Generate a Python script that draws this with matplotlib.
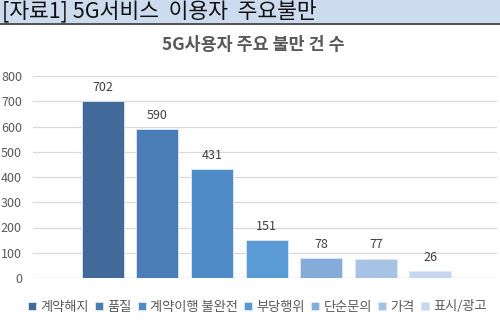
import matplotlib.pyplot as plt
import numpy as np

plt.rcParams['font.family'] = ['Noto Sans CJK KR', 'DejaVu Sans']

# 불만 유형별 건수
categories = ['계약해지', '품질', '계약이행 불완전', '부당행위', '단순문의', '가격', '표시/광고']
counts = [702, 590, 431, 151, 78, 77, 26]
colors = ['#41699a', '#4a7db5', '#4f8bc6', '#5b9bd5', '#85abd9', '#a6c3e5', '#c5d7ef']
yticks = [0, 100, 200, 300, 400, 500, 600, 700, 800]

fig = plt.figure(figsize=(5, 3.33), dpi=100)

# header band
fig.patches.append(plt.Rectangle((0, 1 - 23 / 333), 1, 23 / 333, transform=fig.transFigure,
                                 facecolor='#ccdcee', edgecolor='none', zorder=0))
fig.lines.append(plt.Line2D([0, 1], [1 - 23.5 / 333] * 2, transform=fig.transFigure,
                            color='#333333', lw=1.2))
fig.text(0.004, 1 - 11.5 / 333, '[자료1] 5G서비스  이용자  주요불만', fontsize=15.5,
         color='#111111', va='center', ha='left')

fig.text(0.506, 1 - 45 / 333, '5G사용자 주요 불만 건 수', fontsize=12.5, fontweight='bold',
         color='#595959', va='center', ha='center')

ax = fig.add_axes([33 / 500, 1 - 278 / 333, 464 / 500, 202 / 333])
x = np.arange(len(categories))
bars = ax.bar(x, counts, width=0.77, color=colors, edgecolor='#dfe8f4', linewidth=0.6,
              label=categories, zorder=3)
for xi, v in zip(x, counts):
    ax.text(xi, v + 28, str(v), ha='center', va='bottom', fontsize=9, color='#404040')

ax.set_xlim(-1.28, 7.22)
ax.set_ylim(0, 800)
ax.set_yticks(yticks)
ax.set_xticks([])
ax.grid(axis='y', color='#d9d9d9', lw=0.9, zorder=0)
for s in ax.spines.values():
    s.set_visible(False)
ax.axhline(0, color='#d9d9d9', lw=0.9, zorder=2)
ax.tick_params(axis='y', length=0, labelsize=9, labelcolor='#595959', pad=8)

leg = fig.legend(handles=bars, labels=categories, loc='center', bbox_to_anchor=(0.515, 1 - 307 / 333),
                 ncol=7, frameon=False, fontsize=9.5, handlelength=0.6, handleheight=0.6,
                 handletextpad=0.3, columnspacing=0.5, labelcolor='#595959')

fig.savefig('out.png', dpi=100)
